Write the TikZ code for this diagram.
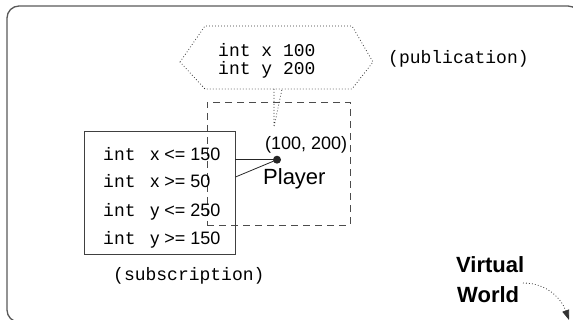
\documentclass[tikz,border=0pt]{standalone}
\usepackage{fontspec}
\setmainfont{Liberation Sans}
\newfontfamily\monof{Liberation Mono}
\usetikzlibrary{arrows.meta}
\begin{document}
\begin{tikzpicture}[x=1pt,y=-1pt,
  mono/.style={font=\monof\fontsize{18}{20}\selectfont, inner sep=0pt},
  sans/.style={font=\fontsize{18}{20}\selectfont, inner sep=0pt},
  dotline/.style={line width=0.8pt, dash pattern=on 0.8pt off 2.2pt, black!80},
  dashline/.style={line width=0.9pt, dash pattern=on 7pt off 5pt, black!70},
  solidline/.style={line width=0.8pt, black!85},
]
\useasboundingbox (0,0) rectangle (573,320);
\begin{scope}
  \clip (0,0) rectangle (573,320);
  \draw[line width=1.3pt, black!65, rounded corners=12pt] (7,6) rectangle (580,322);
\end{scope}

% publication hexagon
\coordinate (h1) at (180,62);
\coordinate (h2) at (205,26);
\coordinate (h3) at (352,26);
\coordinate (h4) at (373,62);
\coordinate (h5) at (352,89);
\coordinate (h6) at (205,89);
\draw[dotline] (h1)--(h2)--(h3)--(h4)--(h5)--(h6)--cycle;
\node[mono, anchor=base west] (pub1) at (218,56.5) {int x 100};
\node[mono, anchor=base west] (pub2) at (218,75) {int y 200};
\node[mono, anchor=base west] (publab) at (388,64) {(publication)};

% callout
\coordinate (cl) at (274,89);
\coordinate (cr) at (282,89);
\coordinate (ct) at (274,127);
\draw[dotline] (cl) -- (ct) -- (cr);

% area of interest (dashed)
\node[draw, dashline, minimum width=143pt, minimum height=123pt, inner sep=0pt] (aoi) at (278.5,163.5) {};

% subscription box
\node[draw, line width=0.9pt, black!75, minimum width=151pt, minimum height=123pt, inner sep=0pt] (sub) at (159.5,192.5) {};
\node[sans, anchor=base west] (s1t) at (103,160.3) {{\monof int\ }\hspace{4pt}x <= 150};
\node[sans, anchor=base west] (s2t) at (103,187.3) {{\monof int\ }\hspace{4pt}x >= 50};
\node[sans, anchor=base west] (s3t) at (103,216.3) {{\monof int\ }\hspace{4pt}y <= 250};
\node[sans, anchor=base west] (s4t) at (103,244.7) {{\monof int\ }\hspace{4pt}y >= 150};
\node[mono, anchor=base west] (sublab) at (113,281) {(subscription)};

% player
\node[circle, fill=black!85, inner sep=0pt, minimum size=8pt] (dot) at (277,159.7) {};
\coordinate (c1) at (sub.east |- dot);
\coordinate (c2) at (235.5,177);
\draw[solidline] (c1) -- (dot.center);
\draw[solidline] (c2) -- (dot.center);
\node[sans, anchor=base west] (pos) at (265,150) {(100, 200)};
\node[sans, font=\fontsize{22}{24}\selectfont, anchor=base west] (player) at (263,185) {Player};

% virtual world
\node[font=\bfseries\fontsize{22}{24}\selectfont, anchor=base west, inner sep=0pt] (vw1) at (456,273) {Virtual};
\node[font=\bfseries\fontsize{22}{24}\selectfont, anchor=base west, inner sep=0pt] (vw2) at (457,303) {World};
\coordinate (a1) at (523,283);
\coordinate (a2) at (569,320);
\draw[dotline, -{Triangle[length=10pt,width=7pt]}] (a1) .. controls (548,283) and (562,300) .. (a2);
\end{tikzpicture}
\end{document}
